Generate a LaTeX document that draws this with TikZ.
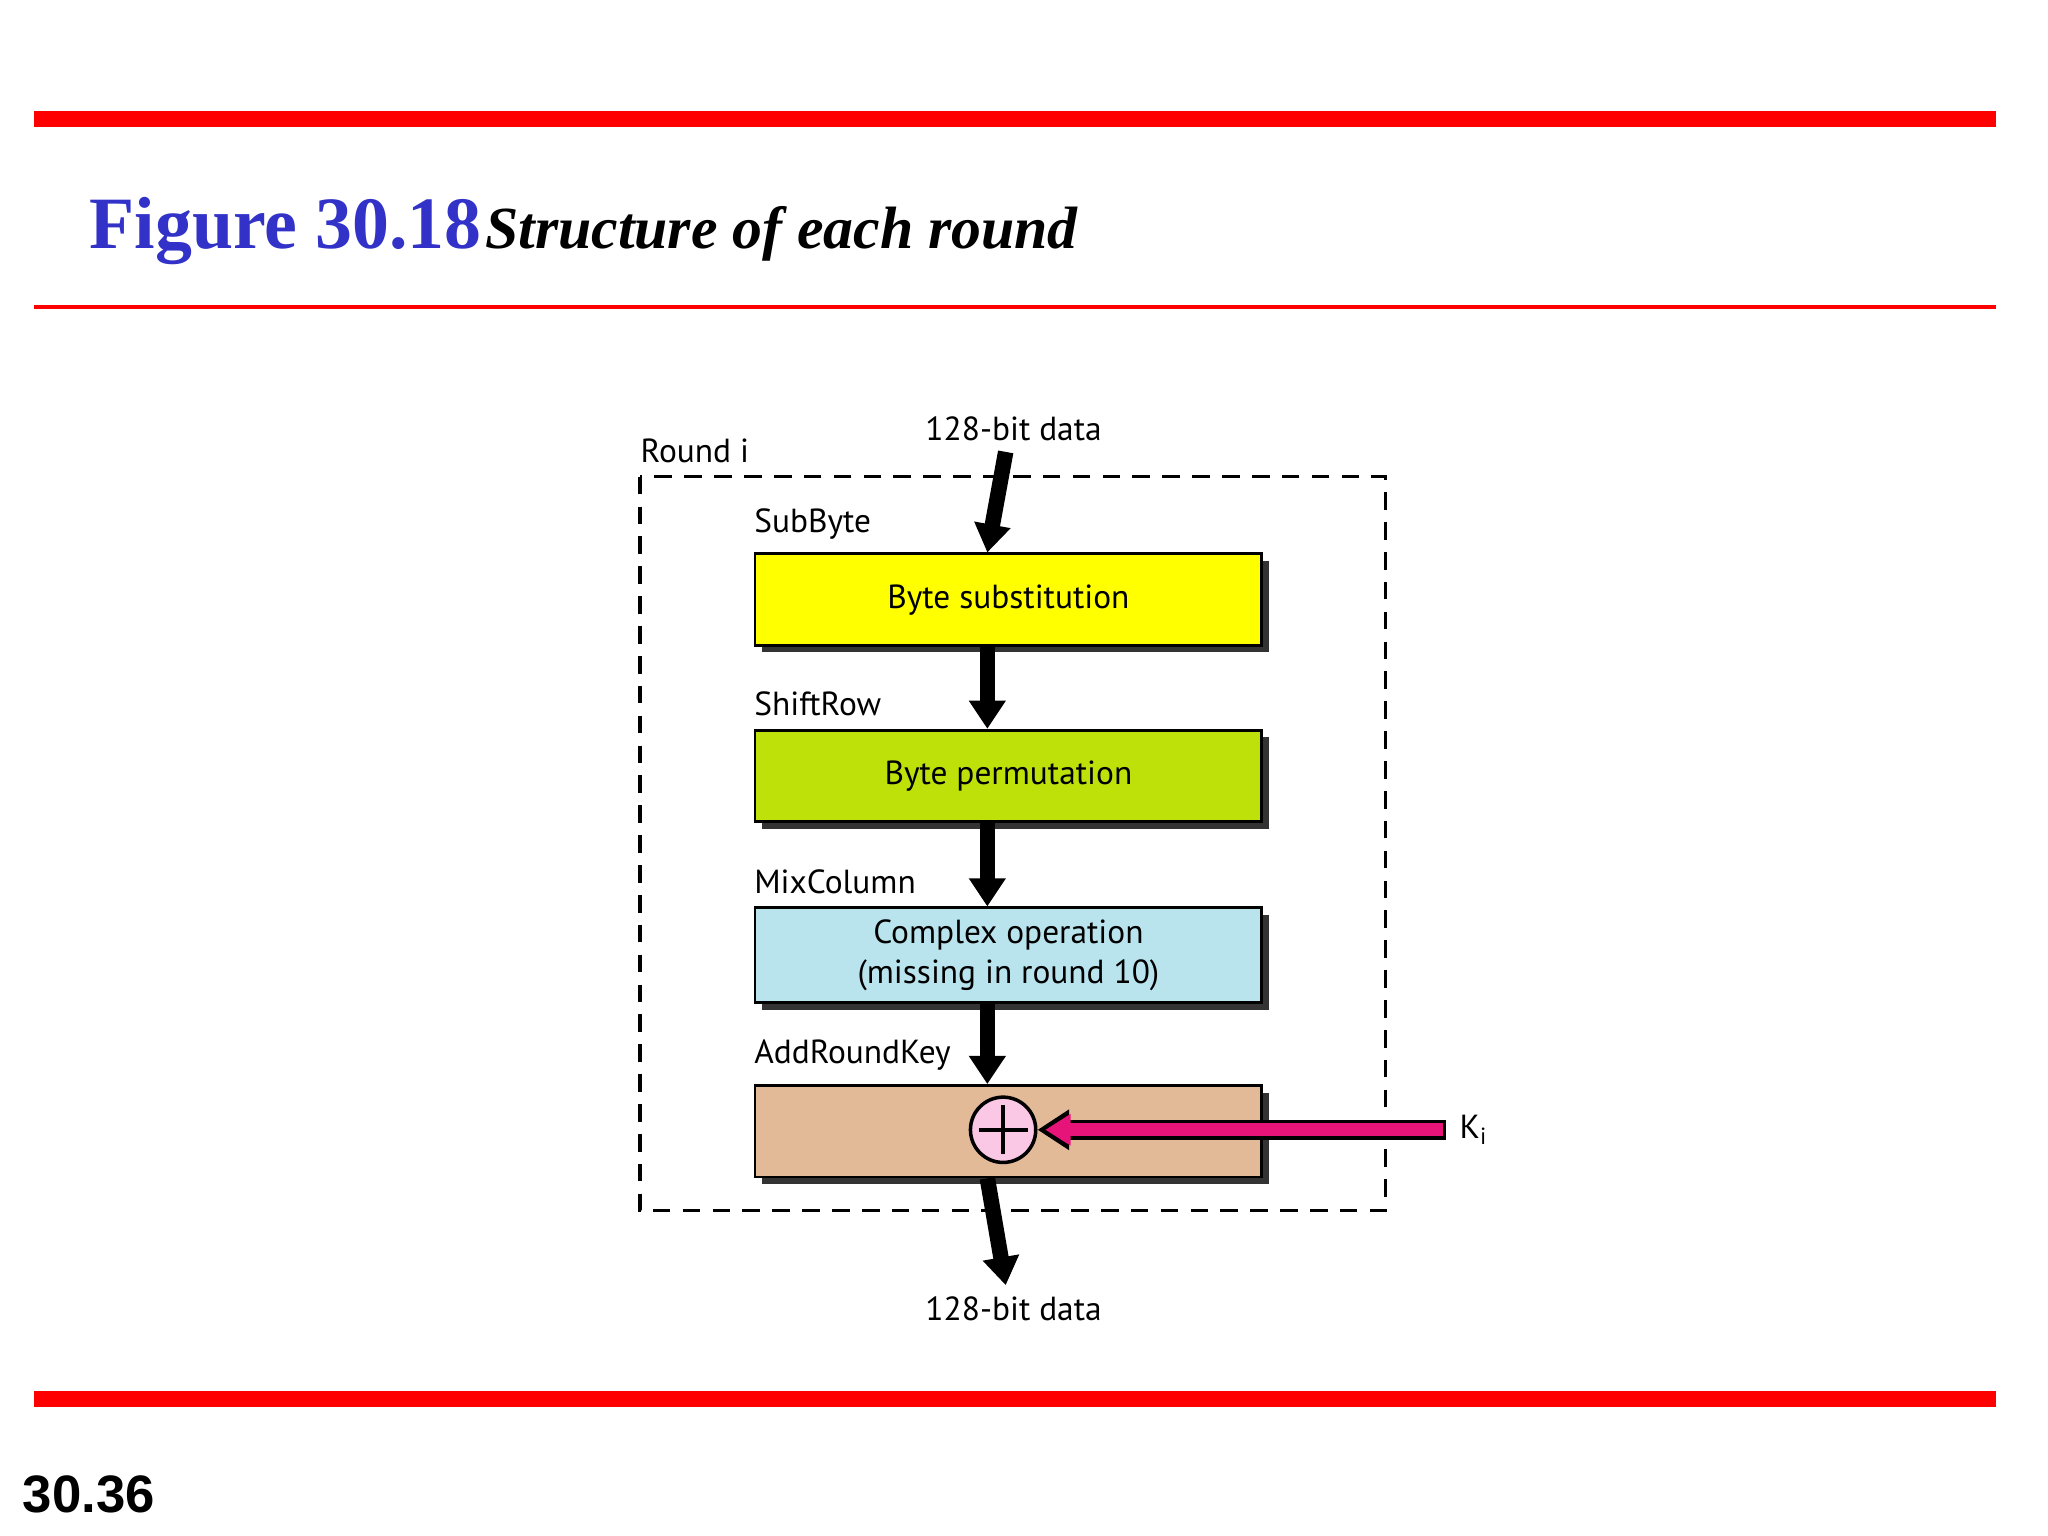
\documentclass[tikz,border=0pt]{standalone}
\usepackage{fontspec}
\setmainfont{Liberation Serif}
\newfontfamily\sff{PT Sans}
\newfontfamily\arl{Liberation Sans}
\usetikzlibrary{arrows.meta,shadows}
\definecolor{rred}{RGB}{255,0,0}
\definecolor{tblue}{RGB}{50,50,200}
\definecolor{byel}{RGB}{255,255,0}
\definecolor{bgrn}{RGB}{190,225,10}
\definecolor{bblu}{RGB}{185,228,238}
\definecolor{btan}{RGB}{226,186,152}
\definecolor{pk}{RGB}{230,20,120}
\definecolor{pkl}{RGB}{250,200,228}
\begin{document}
\begin{tikzpicture}[x=0.01306cm,y=-0.01306cm,
  lab/.style={font=\sff\fontsize{9.5}{11}\selectfont,inner sep=0},
  blk/.style={draw=black,line width=0.8pt,minimum width=388\pgflinewidth,
     font=\sff\fontsize{9.5}{11.5}\selectfont,align=center,
     drop shadow={shadow xshift=2pt,shadow yshift=-2pt,fill=black!80,opacity=1}},
  darr/.style={line width=4.4pt,-{Triangle[width=10pt,length=8pt]}}]
\useasboundingbox (0,0) rectangle (1568,1176);
\fill[rred] (26,85) rectangle (1528,97);
\fill[rred] (26,233.5) rectangle (1528,236.5);
\fill[rred] (26,1065) rectangle (1528,1077);
\node[anchor=base west,inner sep=0,text=tblue,font=\fontsize{21}{24}\selectfont\bfseries] (fig) at (68,190) {Figure 30.18};
\node[anchor=base west,inner sep=0,font=\fontsize{17}{20}\selectfont\bfseries\itshape] (ttl) at (371,190) {Structure of each round};
\node[anchor=base west,inner sep=0,font=\arl\fontsize{15}{18}\selectfont\bfseries] (pg) at (17,1158) {30.36};
\draw[dashed,line width=0.9pt,dash pattern=on 5pt off 3.5pt] (490,365) rectangle (1061,927);
\node[lab,anchor=base west] (rnd) at (490,354) {Round i};
\node[lab,anchor=base] (din) at (776,337) {128-bit data};
\node[lab,anchor=base] (dout) at (776,1011) {128-bit data};
\begin{scope}[every node/.style={blk,minimum width=388*0.01306cm,minimum height=70*0.01306cm,anchor=north west}]
\node[fill=byel] (b1) at (577,423) {Byte substitution};
\node[fill=bgrn] (b2) at (577,558) {Byte permutation};
\node[fill=bblu] (b3) at (577,694) {Complex operation\\(missing in round 10)};
\node[fill=btan] (b4) at (577,830) {};
\end{scope}
\node[lab,anchor=base west] at (577,408) {SubByte};
\node[lab,anchor=base west] at (577,548) {ShiftRow};
\node[lab,anchor=base west] at (577,684) {MixColumn};
\node[lab,anchor=base west] at (577,814) {AddRoundKey};
\node[circle,draw,line width=1pt,fill=pkl,minimum size=50*0.01306cm,inner sep=0] (x) at (768,865) {};
\draw[line width=1pt] ([xshift=-7pt]x.center) -- ([xshift=7pt]x.center) ([yshift=-7pt]x.center) -- ([yshift=7pt]x.center);
\coordinate (kin) at (1107,865);
\node[anchor=west,inner sep=0,font=\sff\fontsize{9.5}{11}\selectfont] (k) at (1117,865) {K\textsubscript{i}};
\draw[line width=5.6pt,-{Triangle[width=11pt,length=9pt]}] (kin) -- (x.east);
\draw[line width=3.6pt,pk,-{Triangle[width=8.5pt,length=7.2pt]}] ([xshift=-0.8pt]kin) -- ([xshift=2.2pt]x.east);
\coordinate (tin) at (770,346);
\draw[darr] (tin) -- ([xshift=-6pt]b1.north);
\draw[darr] ([xshift=-6pt]b1.south) -- ([xshift=-6pt]b2.north);
\draw[darr] ([xshift=-6pt]b2.south) -- ([xshift=-6pt]b3.north);
\draw[darr] ([xshift=-6pt]b3.south) -- ([xshift=-6pt]b4.north);
\coordinate (tout) at (770,984);
\draw[darr] ([xshift=-6pt]b4.south) -- (tout);
\end{tikzpicture}
\end{document}
